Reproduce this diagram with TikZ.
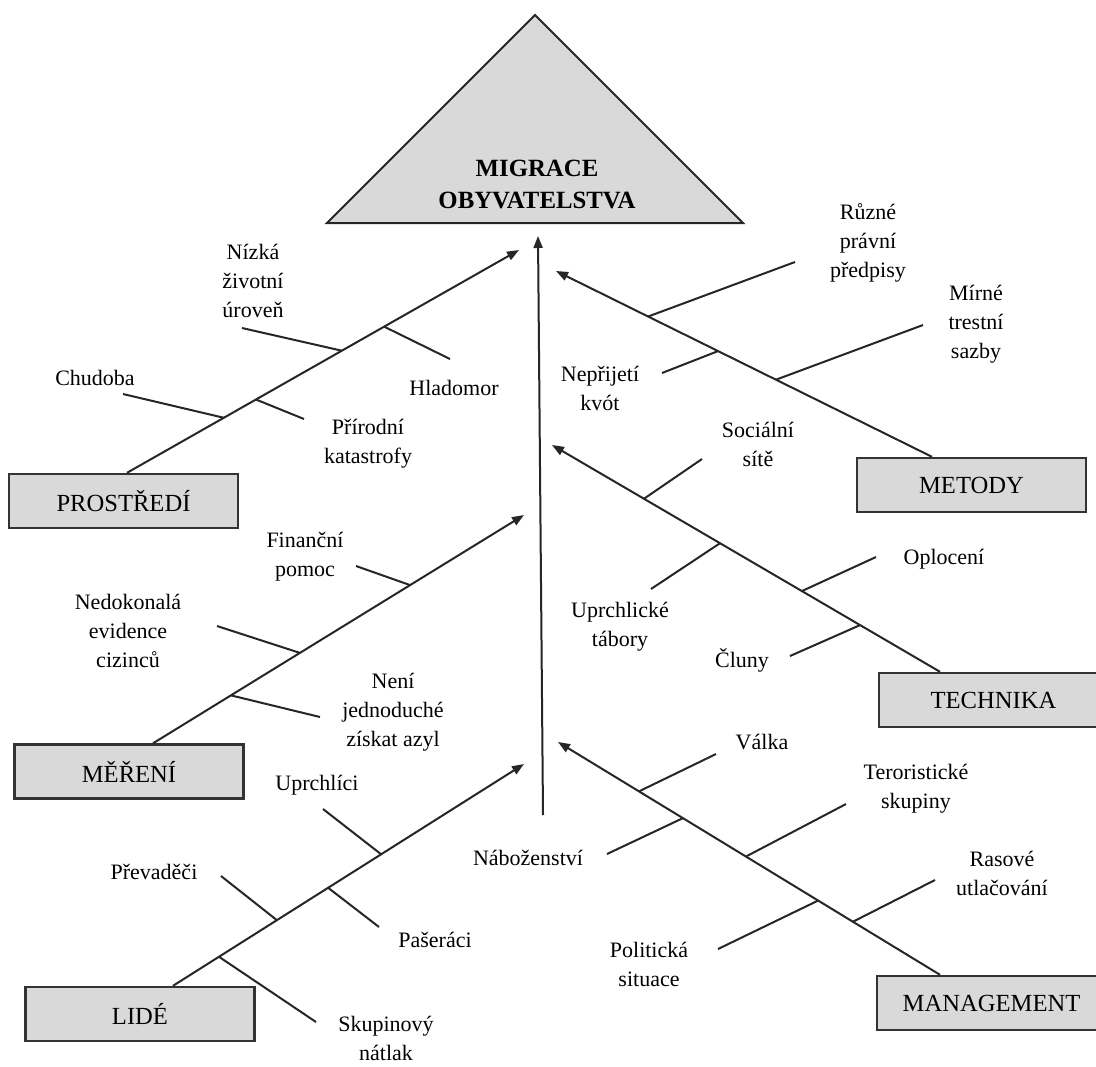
\documentclass[tikz,border=0pt]{standalone}
\usepackage{fontspec}
\setmainfont{Liberation Serif}
\usetikzlibrary{arrows.meta, calc}
\tikzstyle{cause}=[draw=black!80,line width=1.2pt,fill=black!15,minimum width=114.5pt,minimum height=27pt,inner sep=0pt,font=\fontsize{12.3}{14}\selectfont]
\tikzstyle{bone}=[black!85,line width=1pt,-{Triangle[length=6pt,width=4.5pt]}]
\tikzstyle{rib}=[black!85,line width=1pt]
\tikzstyle{lbl}=[align=center,inner sep=0pt,font=\fontsize{11}{14.5}\selectfont]
\begin{document}
\begin{tikzpicture}[x=0.5pt,y=-0.5pt]
\useasboundingbox (0,0) rectangle (1096,1066);
% head
\draw[rib,fill=black!15] (327,223) -- (535,15) -- (743,223) -- cycle;
\node[lbl,font=\bfseries\fontsize{12.4}{16}\selectfont] (goal) at (537,184) {MIGRACE\\OBYVATELSTVA};
% spine
\coordinate (spinebase) at (543,815);
\coordinate (spinetip) at (538,236);
\draw[bone] (spinebase) -- (spinetip);
% cause boxes
\node[cause] (prostredi) at (123.5,501) {PROSTŘEDÍ};
\node[cause] (mereni) at (129,771.5) {MĚŘENÍ};
\node[cause] (lide) at (140,1014) {LIDÉ};
\node[cause] (metody) at (971.5,485) {METODY};
\node[cause] (technika) at (993.5,700) {TECHNIKA};
\node[cause] (management) at (991.5,1003) {MANAGEMENT};
% bones
\foreach \cause/\dx/\tx/\ty/\name in {prostredi/3.5/519/250/p, mereni/24/524/515/m, lide/33/524/764/l, metody/-39.5/556/271/e, technika/-53.5/552/445/t, management/-51.5/558/742/g} {
    \coordinate (\name0) at ($(\cause.north)+(\dx,0)$);
    \coordinate (\name9) at (\tx,\ty);
    \draw[bone] (\name0) -- (\name9);}
% ribs
\foreach \bone/\pos/\x/\y/\n in {p/0.247/123/394/chudoba, p/0.329/304/419/prirodni, p/0.548/242/328/nizka, p/0.656/450/359/hladomor,
    m/0.210/320/717/neni, m/0.396/217/626/nedokonala, m/0.693/356/566/financni,
    l/0.131/316/1022/skupinovy, l/0.296/221/876/prevadeci, l/0.442/379/927/paseraci, l/0.593/323/809/uprchlici,
    e/0.415/923/325/mirne, e/0.569/662/373/neprijeti, e/0.755/795/262/ruzne,
    t/0.206/790/656/cluny, t/0.356/876/557/oploceni, t/0.567/651/589/tabory, t/0.763/702/459/socialni,
    g/0.228/935/880/rasove, g/0.319/718/949/politicka, g/0.508/846/804/teroristicke, g/0.673/607/854/nabozenstvi, g/0.788/716/754/valka} {
    \path (\bone0) -- (\bone9) coordinate[pos=\pos] (\n-root);
    \coordinate (\n-end) at (\x,\y);
    \draw[rib] (\n-root) -- (\n-end);}
% labels
\foreach \n/\x/\y/\txt in {chudoba/95/378/Chudoba, prirodni/368/444/{Přírodní\\katastrofy}, nizka/253/281/{Nízká\\životní\\úroveň}, hladomor/454/388/Hladomor,
    ruzne/868/243/{Různé\\právní\\předpisy}, mirne/976/324/{Mírné\\trestní\\sazby}, neprijeti/600/388/{Nepřijetí\\kvót}, socialni/758/444/{Sociální\\sítě},
    financni/305/557/{Finanční\\pomoc}, nedokonala/128/631/{Nedokonalá\\evidence\\cizinců}, neni/393/712/{Není\\jednoduché\\získat azyl},
    uprchlici/317/785/Uprchlíci, prevadeci/154/872/Převaděči, paseraci/435/940/Pašeráci, skupinovy/386/1038/{Skupinový\\nátlak},
    tabory/620/627/{Uprchlické\\tábory}, oploceni/944/559/Oplocení, cluny/742/660/Čluny,
    valka/762/742/Válka, nabozenstvi/528/858/Náboženství, teroristicke/916/789/{Teroristické\\skupiny}, rasove/1002/873/{Rasové\\utlačování}, politicka/649/964/{Politická\\situace}}
    \node[lbl] (\n) at (\x,\y) {\txt};
\end{tikzpicture}
\end{document}
